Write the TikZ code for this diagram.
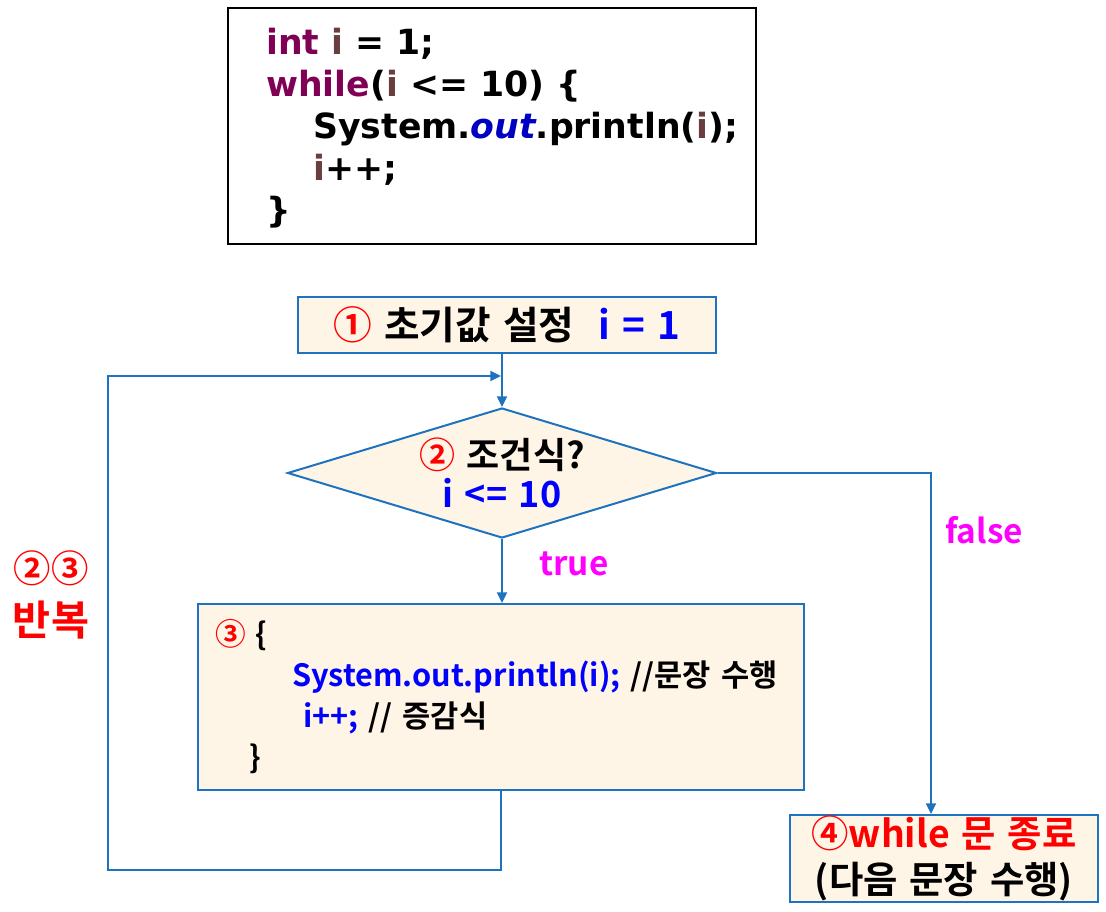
\documentclass[tikz,border=0pt]{standalone}
\usepackage{fontspec}
\setmainfont{Noto Sans CJK KR}[BoldFont={Noto Sans CJK KR Bold}, WordSpace=1.4]
\newfontfamily\codefont{DejaVu Sans}
\usepackage{xcolor}
\usetikzlibrary{arrows}
\usetikzlibrary{arrows.meta}
\usetikzlibrary{shapes.geometric}
\definecolor{flowblue}{RGB}{30,115,190}
\definecolor{boxfill}{RGB}{255,245,231}
\definecolor{kwpurple}{RGB}{127,0,85}
\definecolor{varbrown}{RGB}{106,62,62}
\definecolor{fieldblue}{RGB}{0,0,192}
\definecolor{lblpink}{RGB}{255,0,255}
\newcommand{\kw}[1]{\textcolor{kwpurple}{#1}}
\newcommand{\vr}[1]{\textcolor{varbrown}{#1}}
\tikzset{
    tnode/.style = {align=center, inner sep=0pt},
    flow_box/.style = {tnode, rectangle, draw=flowblue, fill=boxfill, line width=1.5pt},
    cond_node/.style = {tnode, diamond, aspect=3.3, draw=flowblue, fill=boxfill, line width=1.5pt, minimum width=321.75pt, minimum height=97.5pt},
    code_box/.style = {rectangle, draw=black, line width=1.5pt, minimum width=396pt, minimum height=177pt},
    code_text/.style = {align=left, inner sep=0pt, font=\codefont\bfseries\fontsize{26}{31.5}\selectfont},
    lbl/.style = {tnode, font=\bfseries\fontsize{25}{30}\selectfont},
    flow/.style = {draw=flowblue, line width=1.5pt}
}

\begin{document}
\begin{tikzpicture}
            [-,>={Triangle[length=8pt,width=7.5pt]}, x=0.75pt, y=-0.75pt]
            \useasboundingbox (0,0) rectangle (1106,912);

            % code
            \node [code_box] (code) at (492,126) {};
            \node [code_text, anchor=west] (codetext) at (266,128)
                {\kw{int} \vr{i} = 1;\\
                 \kw{while}(\vr{i} <= 10) \{\\
                 \hspace*{35.25pt}System.\textcolor{fieldblue}{\itshape out}.println(\vr{i});\\
                 \hspace*{35.25pt}\vr{i}++;\\
                 \}};

            % flow
            \node [flow_box, minimum width=313.5pt, minimum height=42pt,
                font=\bfseries\fontsize{29}{34}\selectfont] (init) at (507,325)
                {\textcolor{red}{①} 초기값 설정~~\textcolor{blue}{i = 1}};
            \node [cond_node, font=\bfseries\fontsize{27}{29}\selectfont] (cond) at (502,473)
                {\textcolor{red}{②} 조건식?\\\textcolor{blue}{i <= 10}};
            \node [flow_box, align=left, text width=429pt, inner xsep=12.75pt, minimum height=139.5pt,
                font=\bfseries\fontsize{23}{30.75}\selectfont] (body) at (501,697)
                {\textcolor{red}{③} \{\\
                 \hspace*{57.75pt}\textcolor{blue}{System.out.println(i);} //문장 수행\\
                 \hspace*{66pt}\textcolor{blue}{i++;} // 증감식\\
                 \hspace*{26pt}\}};
            \node [flow_box, minimum width=231pt, minimum height=65.25pt,
                font=\bfseries\fontsize{28}{34}\selectfont] (done) at (944,858.5)
                {\textcolor{red}{④while 문 종료}\\(다음 문장 수행)};

            \node [lbl, text=lblpink] (truelbl) at (574,564) {true};
            \node [lbl, text=lblpink] (falselbl) at (984,530) {false};
            \node [lbl, text=red, font=\bfseries\fontsize{28}{40}\selectfont] (repeat) at (51,595)
                {②③\\{\fontsize{31}{40}\selectfont 반복}};

            \coordinate (join) at (501,376);
            \coordinate (back) at (108,870);
            \coordinate (fcorner) at (931,473);

            \draw [flow, ->] (init.south -| cond.north) -- (cond.north);
            \draw [flow, ->] (cond.south) -- (cond.south |- body.north);
            \draw [flow, ->] (cond.east) -- (fcorner) -- (fcorner |- done.north);
            \draw [flow, ->] (body.south) |- (back) |- (join);
        \end{tikzpicture}
\end{document}
